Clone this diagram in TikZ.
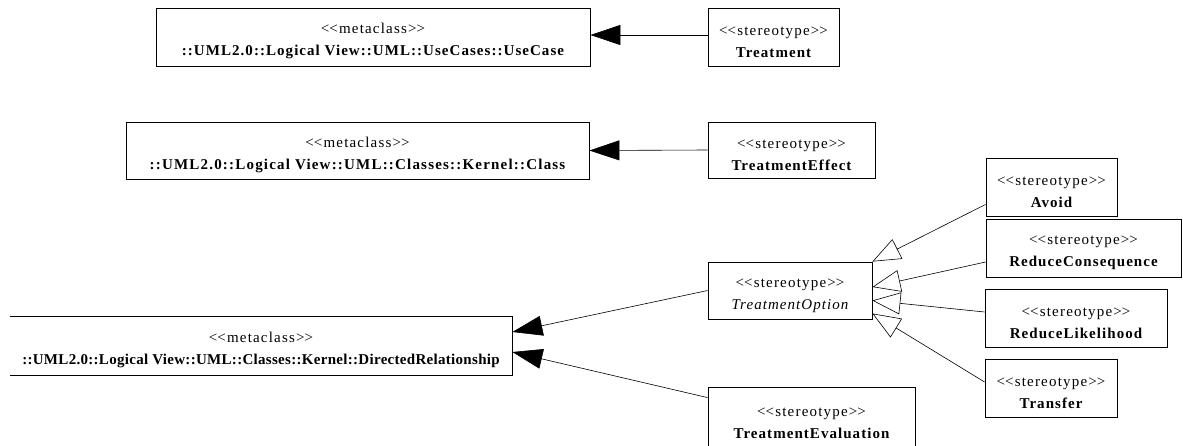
\documentclass[tikz,border=0pt]{standalone}
\usepackage{fontspec}
\setmainfont{Liberation Serif}
% spaced-out faces: stereotype line and stereotype names
\newfontfamily\stfont{Liberation Serif}[LetterSpace=8]
\newfontfamily\nmfont{Liberation Serif}[LetterSpace=7]
\usetikzlibrary{arrows.meta,calc}
% angle brackets kept apart so they stay as two characters
\newcommand{\guil}[1]{\rule{0pt}{19pt}{\stfont<\kern0pt<#1>\kern0pt>}}
\newcommand{\nm}[1]{{\nmfont\bfseries #1}}
% metaclass names, with their own letter spacing
\newcommand{\mc}[2][2]{{\addfontfeature{LetterSpace=#1}\bfseries #2}}
\tikzset{
  umlbox/.style={draw, line width=0.8pt, inner sep=0pt, align=center,
    font=\fontsize{15}{22}\selectfont},
  realize/.style={line width=0.6pt, -{Triangle[length=30pt,width=20pt]}},
  specialize/.style={line width=0.6pt, -{Triangle[open,length=28pt,width=22pt,line width=0.6pt]}},
}
\begin{document}
\begin{tikzpicture}[x=1pt,y=-1pt]
\useasboundingbox (0,0) rectangle (1183,445);
\clip (0,0) rectangle (1183,445);

% metaclasses
\node[umlbox, minimum width=434, minimum height=58] (usecase) at (373,37)
  {\guil{metaclass}\\\mc[7]{::UML2.0::Logical View::UML::UseCases::UseCase}};
\node[umlbox, minimum width=463, minimum height=57] (class) at (357.5,150.5)
  {\guil{metaclass}\\\mc[8]{::UML2.0::Logical View::UML::Classes::Kernel::Class}};
\node[umlbox, draw=none, minimum width=502, minimum height=58] (directed) at (261,346)
  {\guil{metaclass}\\\mc[2]{::UML2.0::Logical View::UML::Classes::Kernel::DirectedRelationship}};
\draw[line width=0.8pt] (directed.north west) -- (directed.north east)
  -- (directed.south east) -- (directed.south west);

% stereotypes
\node[umlbox, minimum width=131, minimum height=58] (treatment) at (773.5,37)
  {\guil{stereotype}\\\nm{Treatment}};
\node[umlbox, minimum width=167, minimum height=56] (effect) at (791.5,150)
  {\guil{stereotype}\\\nm{TreatmentEffect}};
\node[umlbox, minimum width=164, minimum height=57] (option) at (790,290.5)
  {\guil{stereotype}\\{\nmfont\itshape TreatmentOption}};
\node[umlbox, minimum width=207, minimum height=62] (evaluation) at (811.5,418)
  {\guil{stereotype}\\\nm{TreatmentEvaluation}};
\node[umlbox, minimum width=131, minimum height=58] (avoid) at (1051.5,187)
  {\guil{stereotype}\\\nm{Avoid}};
\node[umlbox, minimum width=195, minimum height=58] (reducecons) at (1083.5,248)
  {\guil{stereotype}\\\nm{ReduceConsequence}};
\node[umlbox, minimum width=182, minimum height=58] (reducelik) at (1076,318)
  {\guil{stereotype}\\\nm{ReduceLikelihood}};
\node[umlbox, minimum width=132, minimum height=58] (transfer) at (1051,388)
  {\guil{stereotype}\\\nm{Transfer}};

% extensions to metaclasses
\draw[realize] ([yshift=2]treatment.west) -- ([yshift=2]usecase.east);
\draw[realize] (effect.west) -- (class.east);
\draw[realize] (option.west) -- ([yshift=14]directed.east);
\draw[realize] ([yshift=-11]evaluation.north west) -- ([yshift=-6]directed.east);

% generalizations of TreatmentOption
\draw[specialize] ([yshift=12]avoid.south west) -- (option.north east);
\draw[specialize] ([yshift=-14]reducecons.west) -- ([yshift=3.5]option.east);
\draw[specialize] ([yshift=6]reducelik.west) -- ([yshift=-10]option.east);
\draw[specialize] ([yshift=6]transfer.west) -- ([yshift=-23]option.east);
\end{tikzpicture}
\end{document}
